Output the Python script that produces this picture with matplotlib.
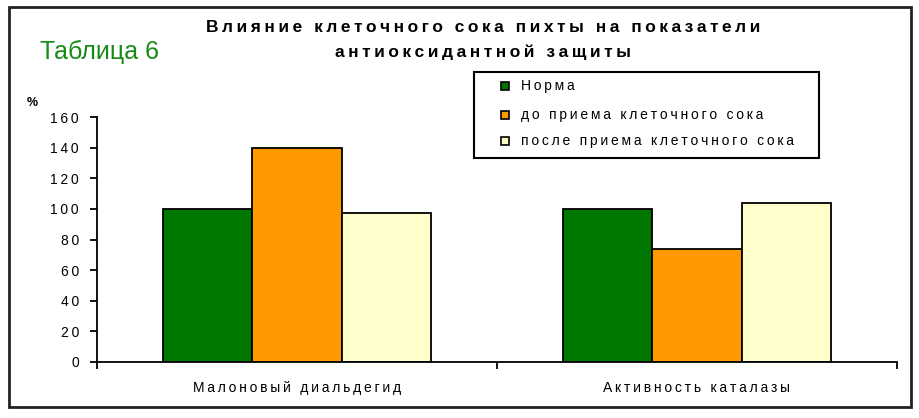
#!/usr/bin/env python3
import matplotlib
matplotlib.use('Agg')
import matplotlib.pyplot as plt
import numpy as np
from matplotlib.patches import Rectangle

plt.rcParams['font.family'] = ['Liberation Sans', 'DejaVu Sans']

categories = ['Малоновый диальдегид', 'Активность каталазы']
series_names = ['Норма', 'до приема клеточного сока', 'после приема клеточного сока']
norma = [100, 100]
before = [140, 74]
after = [97, 104]
yticks = [0, 20, 40, 60, 80, 100, 120, 140, 160]
title_lines = ['Влияние клеточного сока пихты на показатели', 'антиоксидантной защиты']

colors = ['#007800', '#ff9900', '#ffffcc']
text_size = 10
W, H = 920, 418


def spaced(s, sep='\u2009'):
  # excel-like wide letter spacing
  return sep.join(s)


def px(x, y):
  return (x / W, 1 - y / H)


def main():
  fig = plt.figure(figsize=(W / 100, H / 100), dpi=100)
  ax = fig.add_axes([0.1054, 0.134, 0.8696, 0.586])

  x = np.arange(len(categories))
  width = 0.223
  for i, (vals, color) in enumerate(zip([norma, before, after], colors)):
    ax.bar(x + (i - 1) * width, vals, width, color=color, edgecolor='black', linewidth=1.3)

  ax.set_xlim(-0.5, len(categories) - 0.5)
  ax.set_ylim(0, 160)
  ax.set_yticks(yticks)
  ax.set_yticklabels([spaced(str(v)) for v in yticks], fontsize=text_size)
  ax.set_xticks([-0.5, 0.5, 1.5])
  ax.set_xticklabels([])
  ax.set_xticks(x, minor=True)
  ax.set_xticklabels([spaced(c) for c in categories], minor=True, fontsize=text_size)
  ax.tick_params(axis='x', which='minor', length=0, pad=14)
  ax.tick_params(axis='x', which='major', length=5, width=1.3, direction='out')
  ax.tick_params(axis='y', length=5, width=1.3, direction='out', pad=8)
  for side in ['top', 'right']:
    ax.spines[side].set_visible(False)
  for side in ['left', 'bottom']:
    ax.spines[side].set_linewidth(1.3)

  # legend box drawn by hand to match the excel layout
  x0, y0 = px(474, 158)
  x1, y1 = px(819, 72)
  fig.patches.append(Rectangle((x0, y0), x1 - x0, y1 - y0, transform=fig.transFigure,
                               fill=False, edgecolor='black', linewidth=1.5))
  for name, color, ypos in zip(series_names, colors, [86, 115, 141]):
    sx, sy = px(501, ypos + 4)
    fig.patches.append(Rectangle((sx, sy), 8 / W, 8 / H, transform=fig.transFigure,
                                 facecolor=color, edgecolor='black', linewidth=1.2))
    tx, ty = px(521, ypos)
    fig.text(tx, ty, spaced(name), ha='left', va='center', fontsize=text_size)

  for line, ypos in zip(title_lines, [27, 52]):
    tx, ty = px(483, ypos)
    fig.text(tx, ty, spaced(line), ha='center', va='center', fontsize=12.5, fontweight='bold')
  tx, ty = px(40, 52)
  fig.text(tx, ty, 'Таблица 6', ha='left', va='center', fontsize=18, color='#168c16')
  tx, ty = px(27, 103)
  fig.text(tx, ty, '%', ha='left', va='center', fontsize=9, fontweight='bold')

  fig.patches.append(Rectangle((0.0098, 0.026), 0.980, 0.957, transform=fig.transFigure,
                               fill=False, edgecolor='#222222', linewidth=2))

  fig.savefig('out.png', dpi=100)


if __name__ == '__main__':
  main()
